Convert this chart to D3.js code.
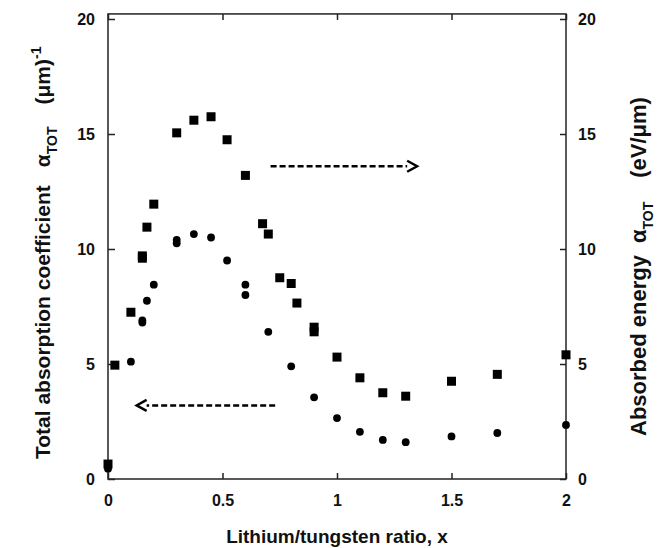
<!DOCTYPE html>
<html>
<head>
<meta charset="utf-8">
<script src="https://cdn.jsdelivr.net/npm/d3@7"></script>
<style>
  body { margin: 0; background: #fff; }
  svg text { font-family: "Liberation Sans", Arial, sans-serif; font-weight: bold; fill: #111; }
</style>
</head>
<body>
<div id="chart"></div>
<script>
const width = 665;
const height = 548;

const margin = ({top: 19, right: 99, bottom: 69, left: 108});

// x ticks / y ticks
const xTicks = [0, 0.5, 1, 1.5, 2];
const yTicks = [0, 5, 10, 15, 20];

// absorbed energy (squares, right axis, eV/um)
const energyX = [0, 0.03, 0.1, 0.15, 0.15, 0.17, 0.2, 0.3, 0.375, 0.45, 0.52, 0.6, 0.675, 0.7, 0.75, 0.8, 0.825, 0.9, 0.9, 1.0, 1.1, 1.2, 1.3, 1.5, 1.7, 2.0];
const energyY = [0.65, 4.95, 7.25, 9.7, 9.6, 10.95, 11.95, 15.05, 15.6, 15.75, 14.75, 13.2, 11.1, 10.65, 8.75, 8.5, 7.65, 6.6, 6.4, 5.3, 4.4, 3.75, 3.6, 4.25, 4.55, 5.4];

// total absorption coefficient (circles, left axis, 1/um)
const coefX = [0, 0.1, 0.15, 0.15, 0.17, 0.2, 0.3, 0.3, 0.375, 0.45, 0.52, 0.6, 0.6, 0.7, 0.8, 0.9, 1.0, 1.1, 1.2, 1.3, 1.5, 1.7, 2.0];
const coefY = [0.45, 5.1, 6.9, 6.8, 7.75, 8.45, 10.4, 10.25, 10.65, 10.5, 9.5, 8.45, 8.0, 6.4, 4.9, 3.55, 2.65, 2.05, 1.7, 1.6, 1.85, 2.0, 2.35];

// annotation arrows: [x start, x end, y]
const arrowRight = [0.71, 1.35, 13.6];
const arrowLeft = [0.73, 0.125, 3.2];

const x = d3.scaleLinear()
  .domain([0, 2])
  .range([margin.left, width - margin.right]);

const yL = d3.scaleLinear()
  .domain([0, 20])
  .range([height - margin.bottom, margin.top]);

const yR = d3.scaleLinear()
  .domain([0, 20])
  .range([height - margin.bottom, margin.top]);

const svg = d3.select("#chart")
  .append("svg")
  .attr("width", width)
  .attr("height", height)
  .attr("viewBox", [0, 0, width, height]);

const frameTop = yL(20.22);

// axes with inward ticks
const styleAxis = g => {
  g.select(".domain").remove();
  g.selectAll(".tick line").attr("stroke", "#222").attr("stroke-width", 1.5);
  g.selectAll(".tick text").attr("font-size", 16).attr("fill", "#111")
    .attr("font-family", "Liberation Sans, Arial, sans-serif").attr("font-weight", "bold");
};

svg.append("g")
  .attr("transform", `translate(0,${height - margin.bottom})`)
  .call(d3.axisBottom(x).tickValues(xTicks).tickFormat(d3.format("")).tickSize(-6).tickPadding(16))
  .call(styleAxis);

svg.append("g")
  .attr("transform", `translate(0,${frameTop})`)
  .call(d3.axisTop(x).tickValues(xTicks).tickFormat("").tickSize(-6))
  .call(styleAxis);

svg.append("g")
  .attr("transform", `translate(${margin.left},0)`)
  .call(d3.axisLeft(yL).tickValues(yTicks).tickSize(-7).tickPadding(13))
  .call(styleAxis);

svg.append("g")
  .attr("transform", `translate(${width - margin.right},0)`)
  .call(d3.axisRight(yR).tickValues(yTicks).tickSize(-6).tickPadding(12))
  .call(styleAxis);

// frame
svg.append("rect")
  .attr("x", margin.left)
  .attr("y", frameTop)
  .attr("width", width - margin.right - margin.left)
  .attr("height", height - margin.bottom - frameTop)
  .attr("fill", "none")
  .attr("stroke", "#222")
  .attr("stroke-width", 1.5);

// squares
const sq = 9;
svg.append("g")
  .selectAll("rect")
  .data(d3.zip(energyX, energyY))
  .join("rect")
  .attr("x", d => x(d[0]) - sq / 2)
  .attr("y", d => yR(d[1]) - sq / 2)
  .attr("width", sq)
  .attr("height", sq)
  .attr("fill", "#000");

// circles
svg.append("g")
  .selectAll("circle")
  .data(d3.zip(coefX, coefY))
  .join("circle")
  .attr("cx", d => x(d[0]))
  .attr("cy", d => yL(d[1]))
  .attr("r", 3.9)
  .attr("fill", "#000");

// dashed arrows
const drawArrow = (a, yScale) => {
  const x0 = x(a[0]), x1 = x(a[1]), yy = yScale(a[2]);
  const dir = Math.sign(x1 - x0);
  svg.append("line")
    .attr("x1", x0).attr("x2", x1 - dir * 10)
    .attr("y1", yy).attr("y2", yy)
    .attr("stroke", "#000")
    .attr("stroke-width", 2.5)
    .attr("stroke-dasharray", "6,3");
  svg.append("path")
    .attr("d", `M${x1 - dir * 10},${yy - 5.5}L${x1},${yy}L${x1 - dir * 10},${yy + 5.5}`)
    .attr("fill", "none")
    .attr("stroke", "#000")
    .attr("stroke-width", 2.4);
};
drawArrow(arrowRight, yR);
drawArrow(arrowLeft, yL);

// axis titles
svg.append("text")
  .attr("x", (margin.left + width - margin.right) / 2)
  .attr("y", 543)
  .attr("text-anchor", "middle")
  .attr("font-size", 19)
  .text("Lithium/tungsten ratio, x");

const left = svg.append("text")
  .attr("transform", "translate(50,459) rotate(-90)")
  .attr("text-anchor", "start")
  .attr("font-size", 21);
left.append("tspan").text("Total absorption coefficient");
left.append("tspan").attr("dx", 18).text("α");
left.append("tspan").attr("font-size", 14).attr("dy", 7).text("TOT");
left.append("tspan").attr("dy", -7).attr("dx", 22).text("(μm)");
left.append("tspan").attr("font-size", 14).attr("dy", -9).text("-1");

const right = svg.append("text")
  .attr("transform", "translate(646,436) rotate(-90)")
  .attr("text-anchor", "start")
  .attr("font-size", 22);
right.append("tspan").text("Absorbed energy");
right.append("tspan").attr("dx", 12).text("α");
right.append("tspan").attr("font-size", 14).attr("dy", 7).text("TOT");
right.append("tspan").attr("dy", -7).attr("dx", 24).text("(eV/μm)");
</script>
</body>
</html>
